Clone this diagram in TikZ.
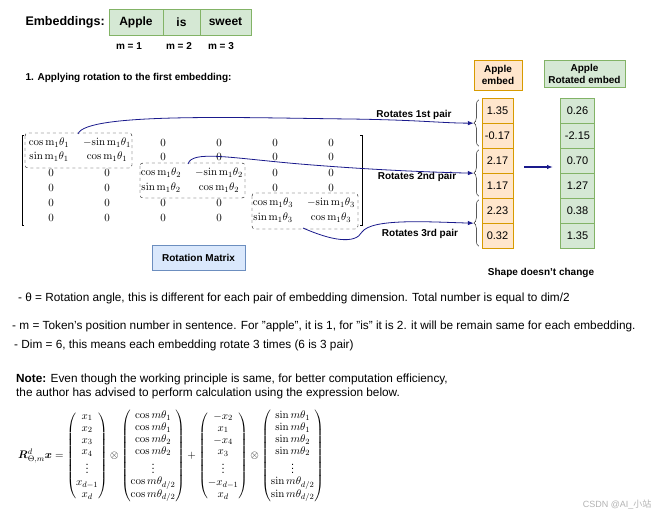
\documentclass[tikz,border=0pt]{standalone}
\usepackage{amsmath}
\usepackage[no-math]{fontspec}
\setmainfont{Liberation Sans}
\newfontfamily\cjk{Noto Sans CJK SC}
\usetikzlibrary{decorations.pathreplacing,arrows.meta,calc}
\definecolor{gfill}{HTML}{D5E8D4}\definecolor{gline}{HTML}{82B366}
\definecolor{ofill}{HTML}{FFE6CC}\definecolor{oline}{HTML}{D79B00}
\definecolor{bfill}{HTML}{DAE8FC}\definecolor{bline}{HTML}{6C8EBF}
\definecolor{navy}{HTML}{1A1A8C}
\begin{document}
\begin{tikzpicture}[x=1pt,y=-1pt,
 gbox/.style={draw=gline,fill=gfill,font=\fontsize{12}{14}\selectfont\bfseries,inner sep=0pt},
 ocell/.style={draw=oline,fill=ofill,minimum width=31pt,minimum height=25pt,inner sep=0pt,font=\fontsize{11}{13}\selectfont},
 gcell/.style={draw=gline,fill=gfill,minimum width=34pt,minimum height=25pt,inner sep=0pt,font=\fontsize{11}{13}\selectfont},
 lbl/.style={font=\fontsize{10}{12}\selectfont\bfseries},
 body/.style={font=\fontsize{11.8}{14}\selectfont,anchor=west,inner sep=0pt},
 mx/.style={font=\fontsize{11}{13}\selectfont,inner sep=0pt},
 dbox/.style={draw,dashed,rounded corners=3pt},
 brc/.style={decorate,decoration={brace,amplitude=5pt}},
 conn/.style={navy,thick,-{Latex[length=6pt]}}]
\useasboundingbox (0,0) rectangle (659,518);
\node[anchor=west,font=\fontsize{12.5}{15}\selectfont\bfseries] (emb) at (22,22) {Embeddings:};
\node[gbox,minimum width=54pt,minimum height=26pt] (apple) at (136,22) {Apple};
\node[gbox,minimum width=37pt,minimum height=26pt] (is) at (181.5,22) {is};
\node[gbox,minimum width=51pt,minimum height=26pt] (sweet) at (225.5,22) {sweet};
\node[lbl] (m1) at (129,46) {m = 1};
\node[lbl] (m2) at (179,46) {m = 2};
\node[lbl] (m3) at (221,46) {m = 3};
\node[lbl,anchor=west] (apply) at (22,78) {1. Applying rotation to the first embedding:};
\node[draw=oline,fill=ofill,lbl,minimum width=48pt,minimum height=30pt,align=center,inner sep=0pt] (ah) at (498,75) {Apple\\embed};
\node[draw=gline,fill=gfill,lbl,minimum width=81pt,minimum height=27pt,align=center,inner sep=0pt] (rh) at (584.5,73.5) {Apple\\Rotated embed};
\foreach \v [count=\i] in {1.35,-0.17,2.17,1.17,2.23,0.32}{
 \node[ocell] (e\i) at (497.5,{98+25*(\i-1)+12.5}) {\v};}
\foreach \v [count=\i] in {0.26,-2.15,0.70,1.27,0.38,1.35}{
 \node[gcell] (r\i) at (577.5,{98+25*(\i-1)+12.5}) {\v};}
\coordinate (aa) at (524,167); \coordinate (ab) at (553,167);
\draw[conn,line width=1.5pt] (aa) -- (ab);
\draw[brc] ($(e2.south west)+(-3,-2)$) -- ($(e1.north west)+(-3,2)$);
\draw[brc] ($(e4.south west)+(-3,-2)$) -- ($(e3.north west)+(-3,2)$);
\draw[brc] ($(e6.south west)+(-3,-2)$) -- ($(e5.north west)+(-3,2)$);
\node[lbl] (p1) at (414,115) {Rotates 1st pair};
\node[lbl] (p2) at (417,177) {Rotates 2nd pair};
\node[lbl] (p3) at (420,234) {Rotates 3rd pair};
% matrix
\foreach \r [count=\i] in {143,157,173,188,203,218}{
 \foreach \c [count=\j] in {51,107,163,219,275,331}{
  \pgfmathtruncatemacro\bi{int((\i+1)/2)}\pgfmathtruncatemacro\bj{int((\j+1)/2)}
  \ifnum\bi=\bj\else\node[mx] (z\i\j) at (\c,\r) {$0$};\fi}}
\foreach \k/\ya/\yb/\xa/\xb in {1/143/157/49/107,2/173/188/161/219,3/203/218/273/331}{
 \node[mx] (c\k a) at (\xa,\ya) {$\cos \mathrm{m}_1\theta_\k$};
 \node[mx] (c\k b) at (\xb,\ya) {$-\!\sin \mathrm{m}_1\theta_\k$};
 \node[mx] (c\k c) at (\xa,\yb) {$\sin \mathrm{m}_1\theta_\k$};
 \node[mx] (c\k d) at (\xb,\yb) {$\cos \mathrm{m}_1\theta_\k$};}
\draw (24,135) -- (22,135) -- (22,225) -- (24,225);
\draw (360,135) -- (362,135) -- (362,225) -- (360,225);
\draw[dbox] (25,133) rectangle (132,168);
\draw[dbox] (140,163) rectangle (245,198);
\draw[dbox] (252,193) rectangle (358,229);
\coordinate (s1) at (78,134); \coordinate (s2) at (188,164); \coordinate (s3) at (303,228);
\coordinate (t1) at ($(e1.south west)+(-8,0)$);
\coordinate (t2) at ($(e3.south west)+(-8,0)$);
\coordinate (t3) at ($(e5.south west)+(-8,0)$);
\draw[conn] (s1) .. controls (85,112) and (250,118) .. (350,119) .. controls (420,120) and (440,123) .. (t1);
\draw[conn] (s2) .. controls (192,150) and (230,158) .. (300,164) .. controls (360,169) and (420,172) .. (t2);
\draw[conn] (s3) .. controls (330,240) and (355,245) .. (362,232) .. controls (372,218) and (430,222) .. (t3);
\node[draw=bline,fill=bfill,lbl,minimum width=93pt,minimum height=25pt,inner sep=0pt] (rm) at (198.5,257.5) {Rotation Matrix};
\node[lbl] (sdc) at (541,273) {Shape doesn't change};
\node[body] (l1) at (18,298) {- θ = Rotation angle, this is different for each pair of embedding dimension. Total number is equal to dim/2};
\node[body] (l2) at (12,326) {- m = Token's position number in sentence. For "apple", it is 1, for "is" it is 2. it will be remain same for each embedding.};
\node[body] (l3) at (14,345) {- Dim = 6, this means each embedding rotate 3 times (6 is 3 pair)};
\node[body] (n1) at (16,379) {\textbf{Note:} Even though the working principle is same, for better computation efficiency,};
\node[body] (n2) at (16,393) {the author has advised to perform calculation using the expression below.};
\node[anchor=west,inner sep=0pt,font=\fontsize{11}{12.5}\selectfont] (f) at (18,456) {$\renewcommand{\arraystretch}{0.95}
\boldsymbol{R}^d_{\Theta,m}\boldsymbol{x}=
\begin{pmatrix}x_1\\x_2\\x_3\\x_4\\\vdots\\x_{d-1}\\x_d\end{pmatrix}\otimes
\begin{pmatrix}\cos m\theta_1\\\cos m\theta_1\\\cos m\theta_2\\\cos m\theta_2\\\vdots\\\cos m\theta_{d/2}\\\cos m\theta_{d/2}\end{pmatrix}+
\begin{pmatrix}-x_2\\x_1\\-x_4\\x_3\\\vdots\\-x_{d-1}\\x_d\end{pmatrix}\otimes
\begin{pmatrix}\sin m\theta_1\\\sin m\theta_1\\\sin m\theta_2\\\sin m\theta_2\\\vdots\\\sin m\theta_{d/2}\\\sin m\theta_{d/2}\end{pmatrix}$};
\node[anchor=east,text=gray!60,font=\fontsize{9}{11}\selectfont] (wm) at (655,505) {CSDN @AI\_{\cjk 小站}};
\end{tikzpicture}
\end{document}
